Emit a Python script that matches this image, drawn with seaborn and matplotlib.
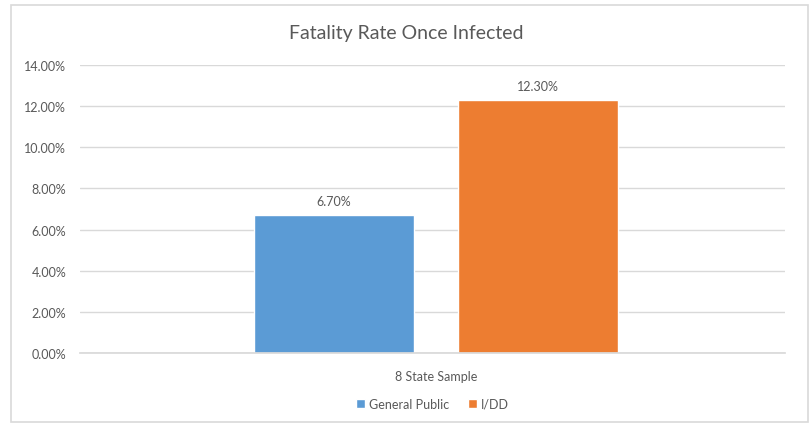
import pandas as pd
import numpy as np
import matplotlib
matplotlib.use("Agg")
import matplotlib.pyplot as plt
import seaborn as sns
from matplotlib.patches import Rectangle
from matplotlib.ticker import FuncFormatter

# data
groups = ["General Public", "I/DD"]
rates = [6.70, 12.30]
category = ["8 State Sample", "8 State Sample"]
colors = ["#5B9BD5", "#ED7D31"]

df = pd.DataFrame({"category": category, "group": groups, "rate": rates})

sns.set_theme(style="white")
plt.rcParams["font.family"] = ["Lato", "DejaVu Sans"]
grey = "#595959"

fig = plt.figure(figsize=(8.12, 4.27), dpi=100)
ax = fig.add_axes([80 / 812, 73 / 427, 705 / 812, 288 / 427])

sns.barplot(data=df, x="category", y="rate", hue="group", palette=colors,
            width=0.579, gap=0.215, saturation=1, ax=ax, legend=True)

ax.set_ylim(0, 14)
ax.set_yticks(np.arange(0, 15, 2))
ax.yaxis.set_major_formatter(FuncFormatter(lambda v, p: f"{v:.2f}%"))
ax.set_xlim(-0.505, 0.495)
ax.grid(axis="y", color="#D9D9D9", linewidth=1)
ax.set_axisbelow(True)
for s in ["top", "right", "left"]:
    ax.spines[s].set_visible(False)
ax.spines["bottom"].set_color("#D9D9D9")
ax.tick_params(axis="both", length=0, labelsize=9, colors=grey, pad=10)
ax.tick_params(axis="x", pad=12)
ax.set_xlabel("")
ax.set_ylabel("")

for c in ax.containers:
    ax.bar_label(c, labels=[f"{v:.2f}%" for v in c.datavalues], padding=6,
                 fontsize=9, color=grey)

ax.legend(loc="center", bbox_to_anchor=(0.5, -0.177), ncol=2, frameon=False,
          fontsize=9, labelcolor=grey, handlelength=0.7, handleheight=0.7,
          handletextpad=0.3, columnspacing=1.5)

fig.text(0.5, 1 - 33 / 427, "Fatality Rate Once Infected", ha="center", va="center",
         fontsize=14, color=grey)

fig.patches.append(Rectangle((11 / 812, 4 / 427), 797 / 812, 417 / 427,
                             transform=fig.transFigure, fill=False,
                             edgecolor="#D9D9D9", linewidth=1.2))

fig.savefig("out.png", dpi=100)
